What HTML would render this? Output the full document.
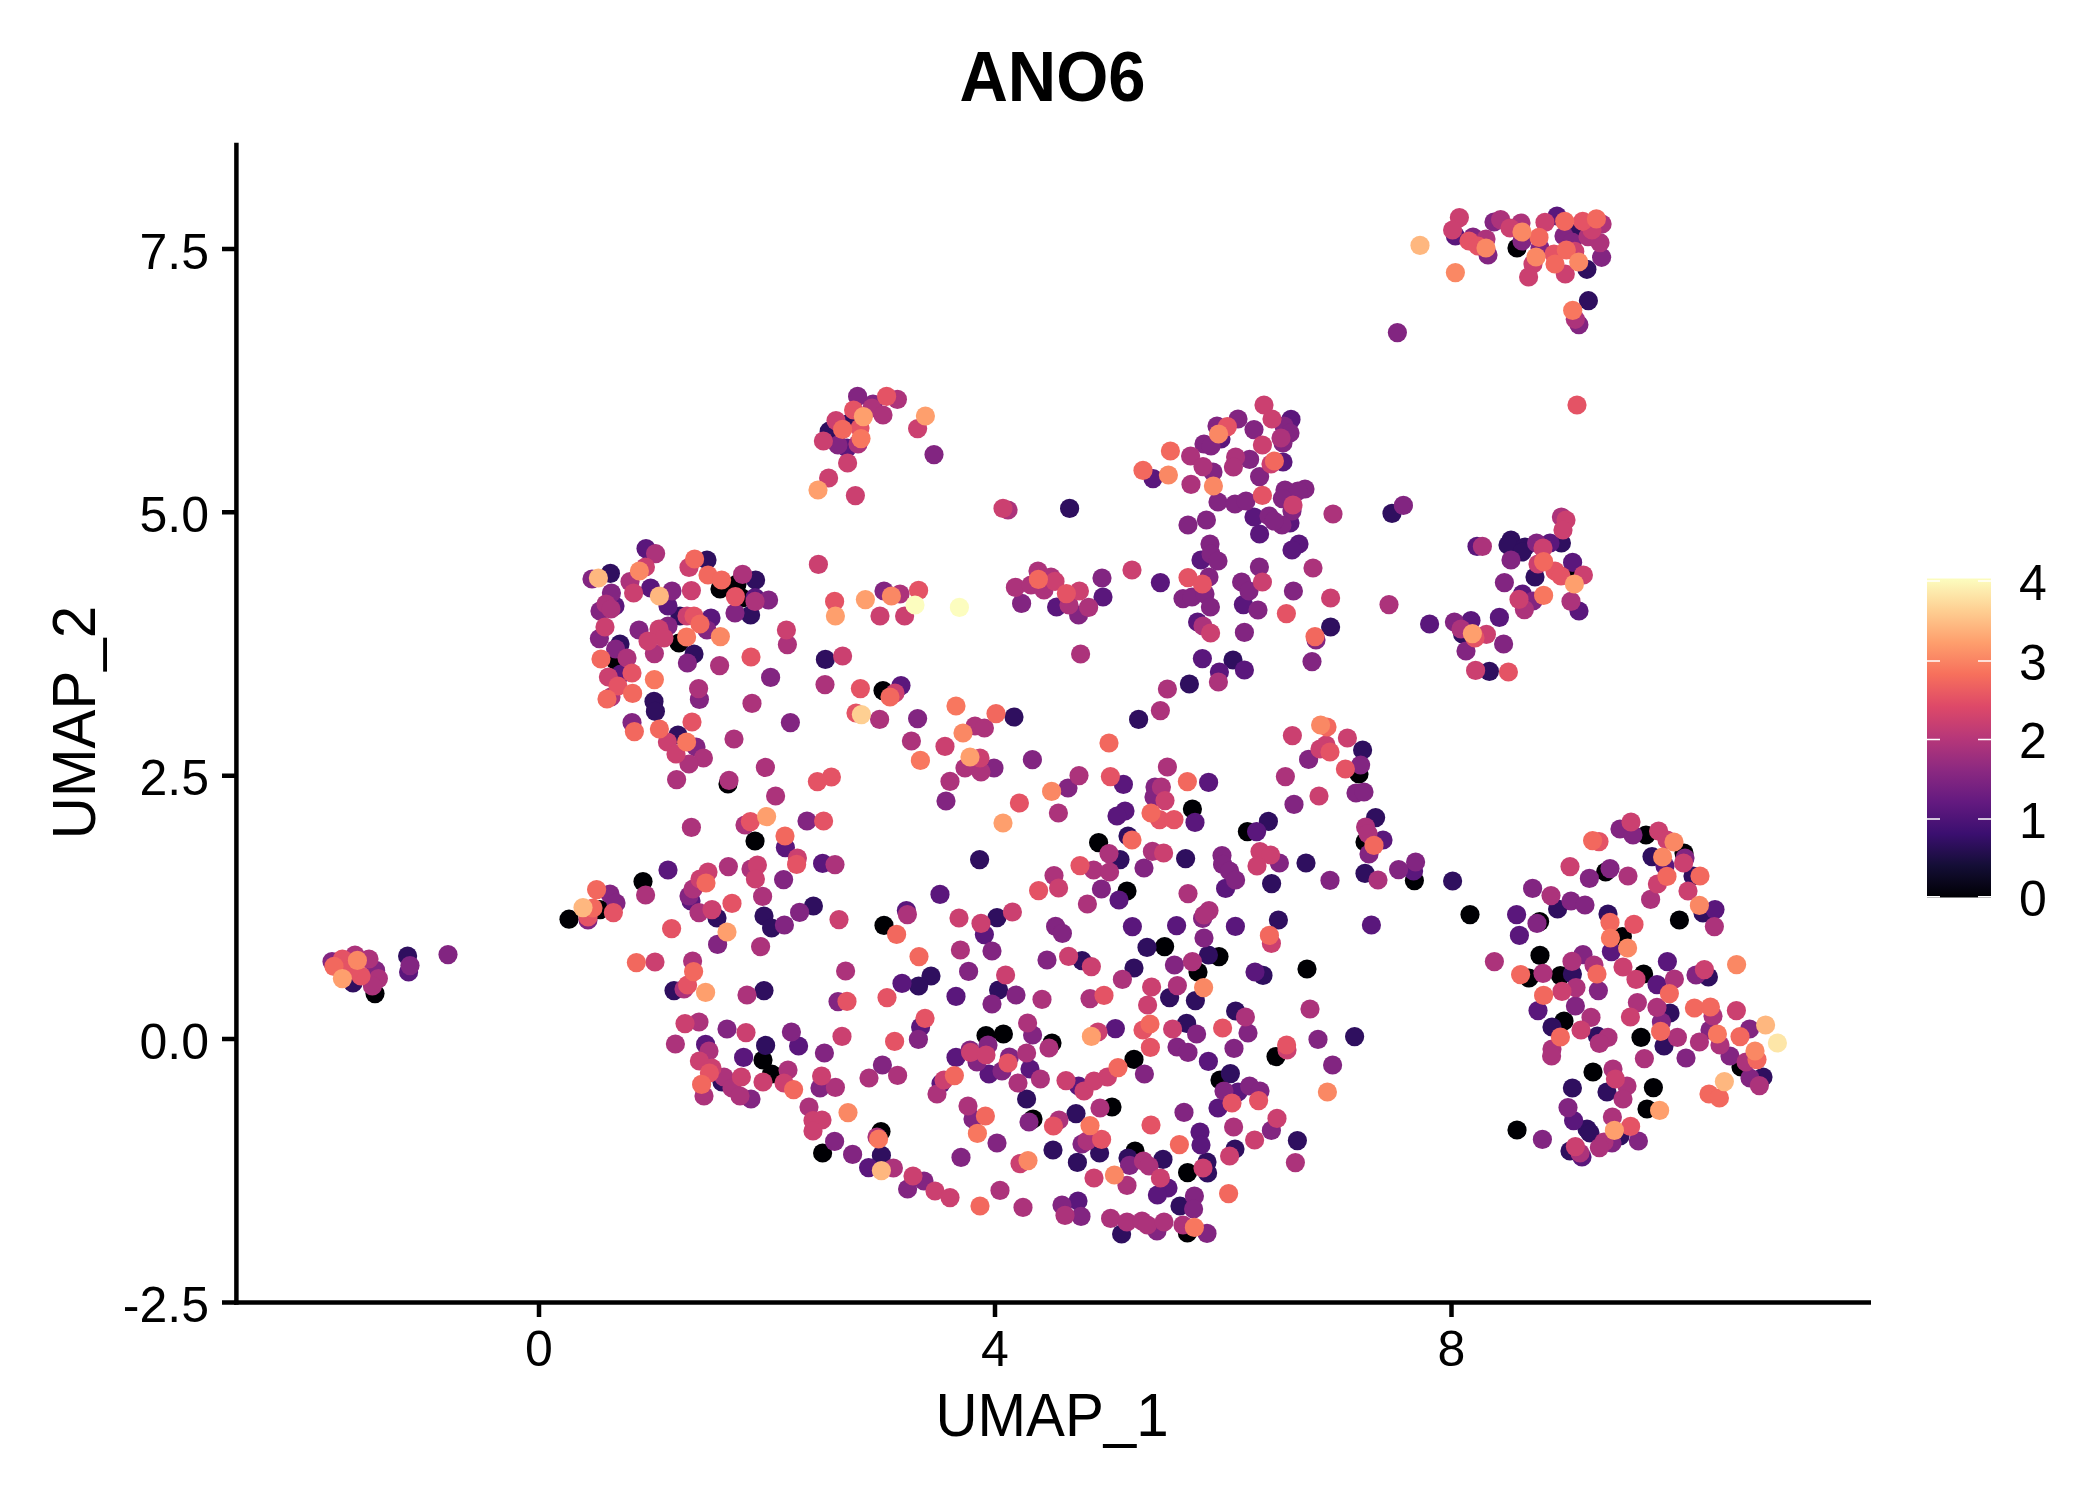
<!DOCTYPE html>
<html><head><meta charset="utf-8"><title>ANO6</title>
<style>html,body{margin:0;padding:0;background:#fff}svg{display:block}text{font-family:"Liberation Sans",sans-serif;fill:#000}</style>
</head><body>
<svg width="2100" height="1500" viewBox="0 0 2100 1500">
<rect width="2100" height="1500" fill="#fff"/>
<defs><linearGradient id="g" x1="0" y1="0" x2="0" y2="1"><stop offset="0" stop-color="#fcfdbf"/><stop offset="0.1" stop-color="#fecf92"/><stop offset="0.2" stop-color="#fe9f6d"/><stop offset="0.3" stop-color="#f7705c"/><stop offset="0.4" stop-color="#de4968"/><stop offset="0.5" stop-color="#b73779"/><stop offset="0.6" stop-color="#8c2981"/><stop offset="0.7" stop-color="#641a80"/><stop offset="0.8" stop-color="#3b0f70"/><stop offset="0.9" stop-color="#140e36"/><stop offset="1" stop-color="#000004"/></linearGradient></defs>
<text transform="translate(1052.5 101) scale(1 1.04)" font-size="67" font-weight="bold" text-anchor="middle">ANO6</text>
<g stroke="#000" stroke-width="4.5" fill="none">
<path d="M236.4 142.8V1304.7"/><path d="M234.2 1302.5H1871"/>
<path d="M222 249H236M222 512.3H236M222 775.7H236M222 1039H236M222 1302.5H236"/>
<path d="M539 1302V1317M995 1302V1317M1451.5 1302V1317"/>
</g>
<g font-size="50" text-anchor="end">
<text x="209" y="268.5">7.5</text><text x="209" y="531.8">5.0</text><text x="209" y="795.1">2.5</text><text x="209" y="1058.5">0.0</text><text x="209" y="1321.8">-2.5</text>
</g>
<g font-size="50" text-anchor="middle">
<text x="539" y="1366">0</text><text x="995" y="1366">4</text><text x="1451.5" y="1366">8</text>
</g>
<text transform="translate(1052 1435.5) scale(1 1.035)" font-size="58.3" text-anchor="middle">UMAP_1</text>
<text transform="translate(95 722.5) rotate(-90) scale(1 1.04)" font-size="58.3" text-anchor="middle">UMAP_2</text>
<rect x="1927" y="578.5" width="64" height="319" fill="url(#g)"/>
<g stroke="#fff" stroke-width="1.6">
<path d="M1927 581H1940M1978 581H1991M1927 661H1940M1978 661H1991M1927 739.5H1940M1978 739.5H1991M1927 819H1940M1978 819H1991M1927 896.7H1940M1978 896.7H1991"/>
</g>
<g font-size="50">
<text x="2019" y="600">4</text><text x="2019" y="680">3</text><text x="2019" y="758">2</text><text x="2019" y="838">1</text><text x="2019" y="916">0</text>
</g>
<g>
<circle cx="375" cy="993.6" r="9.6" fill="#000004"/>
<circle cx="569" cy="919.2" r="9.6" fill="#000004"/>
<circle cx="600" cy="909.6" r="9.6" fill="#000004"/>
<circle cx="643" cy="881.6" r="9.6" fill="#000004"/>
<circle cx="755" cy="841" r="9.6" fill="#000004"/>
<circle cx="1098.6" cy="842.6" r="9.6" fill="#000004"/>
<circle cx="1127" cy="891" r="9.6" fill="#000004"/>
<circle cx="884" cy="925.4" r="9.6" fill="#000004"/>
<circle cx="986" cy="1035.6" r="9.6" fill="#000004"/>
<circle cx="1003.4" cy="1034" r="9.6" fill="#000004"/>
<circle cx="1052" cy="1043" r="9.6" fill="#000004"/>
<circle cx="763" cy="1060" r="9.6" fill="#000004"/>
<circle cx="1134" cy="1059.4" r="9.6" fill="#000004"/>
<circle cx="771.6" cy="1074" r="9.6" fill="#000004"/>
<circle cx="1192.4" cy="809" r="9.6" fill="#000004"/>
<circle cx="1247.4" cy="831.6" r="9.6" fill="#000004"/>
<circle cx="1365" cy="842" r="9.6" fill="#000004"/>
<circle cx="1414.4" cy="880.6" r="9.6" fill="#000004"/>
<circle cx="1470" cy="914.6" r="9.6" fill="#000004"/>
<circle cx="1539.6" cy="921.6" r="9.6" fill="#000004"/>
<circle cx="1164.6" cy="946.6" r="9.6" fill="#000004"/>
<circle cx="1219" cy="956.6" r="9.6" fill="#000004"/>
<circle cx="1540" cy="955.4" r="9.6" fill="#000004"/>
<circle cx="1198" cy="972" r="9.6" fill="#000004"/>
<circle cx="1307" cy="969" r="9.6" fill="#000004"/>
<circle cx="1529" cy="978" r="9.6" fill="#000004"/>
<circle cx="1276" cy="1056.6" r="9.6" fill="#000004"/>
<circle cx="1220" cy="1080" r="9.6" fill="#000004"/>
<circle cx="1646" cy="835" r="9.6" fill="#000004"/>
<circle cx="1684" cy="853" r="9.6" fill="#000004"/>
<circle cx="1605.6" cy="872" r="9.6" fill="#000004"/>
<circle cx="1679.4" cy="920" r="9.6" fill="#000004"/>
<circle cx="1622.4" cy="936.6" r="9.6" fill="#000004"/>
<circle cx="1560.4" cy="975.6" r="9.6" fill="#000004"/>
<circle cx="1643.6" cy="974" r="9.6" fill="#000004"/>
<circle cx="1564" cy="1021" r="9.6" fill="#000004"/>
<circle cx="1641" cy="1037.4" r="9.6" fill="#000004"/>
<circle cx="1741" cy="1067" r="9.6" fill="#000004"/>
<circle cx="1593" cy="1072" r="9.6" fill="#000004"/>
<circle cx="1653.4" cy="1087.6" r="9.6" fill="#000004"/>
<circle cx="822.6" cy="1153" r="9.6" fill="#000004"/>
<circle cx="881" cy="1131.6" r="9.6" fill="#000004"/>
<circle cx="1112" cy="1107" r="9.6" fill="#000004"/>
<circle cx="1033" cy="1119" r="9.6" fill="#000004"/>
<circle cx="1135" cy="1151" r="9.6" fill="#000004"/>
<circle cx="1187.6" cy="1172.6" r="9.6" fill="#000004"/>
<circle cx="1187.4" cy="1233" r="9.6" fill="#000004"/>
<circle cx="1647" cy="1109" r="9.6" fill="#000004"/>
<circle cx="1517" cy="1130" r="9.6" fill="#000004"/>
<circle cx="737" cy="584" r="9.6" fill="#000004"/>
<circle cx="720" cy="589" r="9.6" fill="#000004"/>
<circle cx="742" cy="598" r="9.6" fill="#000004"/>
<circle cx="679" cy="643" r="9.6" fill="#000004"/>
<circle cx="615" cy="660" r="9.6" fill="#000004"/>
<circle cx="883" cy="690.6" r="9.6" fill="#000004"/>
<circle cx="728" cy="784" r="9.6" fill="#000004"/>
<circle cx="1359" cy="774" r="9.6" fill="#000004"/>
<circle cx="1571" cy="574" r="9.6" fill="#000004"/>
<circle cx="1517" cy="248" r="9.6" fill="#000004"/>
<circle cx="353" cy="983" r="9.6" fill="#2f0f5f"/>
<circle cx="407.6" cy="956" r="9.6" fill="#2f0f5f"/>
<circle cx="717" cy="918" r="9.6" fill="#2f0f5f"/>
<circle cx="674" cy="990.6" r="9.6" fill="#2f0f5f"/>
<circle cx="1128" cy="836" r="9.6" fill="#2f0f5f"/>
<circle cx="1120" cy="859.6" r="9.6" fill="#2f0f5f"/>
<circle cx="979.6" cy="859.6" r="9.6" fill="#2f0f5f"/>
<circle cx="813.4" cy="906" r="9.6" fill="#2f0f5f"/>
<circle cx="997" cy="917.6" r="9.6" fill="#2f0f5f"/>
<circle cx="764" cy="916" r="9.6" fill="#2f0f5f"/>
<circle cx="771.6" cy="928" r="9.6" fill="#2f0f5f"/>
<circle cx="1082" cy="960.6" r="9.6" fill="#2f0f5f"/>
<circle cx="931" cy="976" r="9.6" fill="#2f0f5f"/>
<circle cx="918.6" cy="986" r="9.6" fill="#2f0f5f"/>
<circle cx="1134" cy="968" r="9.6" fill="#2f0f5f"/>
<circle cx="764" cy="990.6" r="9.6" fill="#2f0f5f"/>
<circle cx="998.6" cy="990" r="9.6" fill="#2f0f5f"/>
<circle cx="765.6" cy="1045.4" r="9.6" fill="#2f0f5f"/>
<circle cx="722" cy="1082" r="9.6" fill="#2f0f5f"/>
<circle cx="1026.6" cy="1099" r="9.6" fill="#2f0f5f"/>
<circle cx="1375.6" cy="817.6" r="9.6" fill="#2f0f5f"/>
<circle cx="1268.4" cy="821.4" r="9.6" fill="#2f0f5f"/>
<circle cx="1185.6" cy="858.6" r="9.6" fill="#2f0f5f"/>
<circle cx="1306" cy="863" r="9.6" fill="#2f0f5f"/>
<circle cx="1271.6" cy="883.6" r="9.6" fill="#2f0f5f"/>
<circle cx="1365" cy="873.4" r="9.6" fill="#2f0f5f"/>
<circle cx="1452.6" cy="881" r="9.6" fill="#2f0f5f"/>
<circle cx="1278.4" cy="920" r="9.6" fill="#2f0f5f"/>
<circle cx="1557.6" cy="909" r="9.6" fill="#2f0f5f"/>
<circle cx="1147" cy="947.4" r="9.6" fill="#2f0f5f"/>
<circle cx="1208.4" cy="955" r="9.6" fill="#2f0f5f"/>
<circle cx="1263" cy="975.4" r="9.6" fill="#2f0f5f"/>
<circle cx="1169.6" cy="997.6" r="9.6" fill="#2f0f5f"/>
<circle cx="1195.4" cy="1000.6" r="9.6" fill="#2f0f5f"/>
<circle cx="1235.6" cy="1011" r="9.6" fill="#2f0f5f"/>
<circle cx="1186.6" cy="1023.4" r="9.6" fill="#2f0f5f"/>
<circle cx="1552" cy="1027" r="9.6" fill="#2f0f5f"/>
<circle cx="1354.6" cy="1036.6" r="9.6" fill="#2f0f5f"/>
<circle cx="1230.4" cy="1073.6" r="9.6" fill="#2f0f5f"/>
<circle cx="1652" cy="856.6" r="9.6" fill="#2f0f5f"/>
<circle cx="1693" cy="876" r="9.6" fill="#2f0f5f"/>
<circle cx="1703" cy="913" r="9.6" fill="#2f0f5f"/>
<circle cx="1608" cy="914" r="9.6" fill="#2f0f5f"/>
<circle cx="1572.4" cy="974" r="9.6" fill="#2f0f5f"/>
<circle cx="1708.4" cy="977" r="9.6" fill="#2f0f5f"/>
<circle cx="1670" cy="1013" r="9.6" fill="#2f0f5f"/>
<circle cx="1597.4" cy="1036" r="9.6" fill="#2f0f5f"/>
<circle cx="1664" cy="1046" r="9.6" fill="#2f0f5f"/>
<circle cx="1572.4" cy="1088" r="9.6" fill="#2f0f5f"/>
<circle cx="1607" cy="1092" r="9.6" fill="#2f0f5f"/>
<circle cx="1763" cy="1077" r="9.6" fill="#2f0f5f"/>
<circle cx="881.4" cy="1155.4" r="9.6" fill="#2f0f5f"/>
<circle cx="1076" cy="1113.6" r="9.6" fill="#2f0f5f"/>
<circle cx="1297.4" cy="1140.6" r="9.6" fill="#2f0f5f"/>
<circle cx="1235" cy="1149" r="9.6" fill="#2f0f5f"/>
<circle cx="1053" cy="1150" r="9.6" fill="#2f0f5f"/>
<circle cx="1099.6" cy="1153" r="9.6" fill="#2f0f5f"/>
<circle cx="1077.4" cy="1162.4" r="9.6" fill="#2f0f5f"/>
<circle cx="1128" cy="1158" r="9.6" fill="#2f0f5f"/>
<circle cx="1163" cy="1159.4" r="9.6" fill="#2f0f5f"/>
<circle cx="1207" cy="1162" r="9.6" fill="#2f0f5f"/>
<circle cx="1207.6" cy="1173" r="9.6" fill="#2f0f5f"/>
<circle cx="1180" cy="1206" r="9.6" fill="#2f0f5f"/>
<circle cx="1121.6" cy="1234" r="9.6" fill="#2f0f5f"/>
<circle cx="1587" cy="1129" r="9.6" fill="#2f0f5f"/>
<circle cx="1590" cy="1133" r="9.6" fill="#2f0f5f"/>
<circle cx="1620" cy="1136" r="9.6" fill="#2f0f5f"/>
<circle cx="1570" cy="1151" r="9.6" fill="#2f0f5f"/>
<circle cx="707" cy="560" r="9.6" fill="#2f0f5f"/>
<circle cx="610.4" cy="573.4" r="9.6" fill="#2f0f5f"/>
<circle cx="755.6" cy="580" r="9.6" fill="#2f0f5f"/>
<circle cx="680" cy="616" r="9.6" fill="#2f0f5f"/>
<circle cx="750.6" cy="615" r="9.6" fill="#2f0f5f"/>
<circle cx="620" cy="644" r="9.6" fill="#2f0f5f"/>
<circle cx="694" cy="654" r="9.6" fill="#2f0f5f"/>
<circle cx="825.4" cy="659.4" r="9.6" fill="#2f0f5f"/>
<circle cx="654" cy="701.4" r="9.6" fill="#2f0f5f"/>
<circle cx="655.4" cy="711.4" r="9.6" fill="#2f0f5f"/>
<circle cx="678" cy="735" r="9.6" fill="#2f0f5f"/>
<circle cx="1069.6" cy="508.4" r="9.6" fill="#2f0f5f"/>
<circle cx="1330.6" cy="627" r="9.6" fill="#2f0f5f"/>
<circle cx="1233" cy="660" r="9.6" fill="#2f0f5f"/>
<circle cx="1189.4" cy="684" r="9.6" fill="#2f0f5f"/>
<circle cx="1138.6" cy="719.4" r="9.6" fill="#2f0f5f"/>
<circle cx="1014" cy="717" r="9.6" fill="#2f0f5f"/>
<circle cx="1362.6" cy="750" r="9.6" fill="#2f0f5f"/>
<circle cx="1392" cy="513.4" r="9.6" fill="#2f0f5f"/>
<circle cx="1511" cy="540" r="9.6" fill="#2f0f5f"/>
<circle cx="1508" cy="545" r="9.6" fill="#2f0f5f"/>
<circle cx="1525" cy="547" r="9.6" fill="#2f0f5f"/>
<circle cx="1522" cy="552" r="9.6" fill="#2f0f5f"/>
<circle cx="1561.4" cy="543" r="9.6" fill="#2f0f5f"/>
<circle cx="1535" cy="577" r="9.6" fill="#2f0f5f"/>
<circle cx="1462.6" cy="634" r="9.6" fill="#2f0f5f"/>
<circle cx="1489.4" cy="671.4" r="9.6" fill="#2f0f5f"/>
<circle cx="851" cy="422" r="9.6" fill="#2f0f5f"/>
<circle cx="829.2" cy="431.2" r="9.6" fill="#2f0f5f"/>
<circle cx="1577.3" cy="232.7" r="9.6" fill="#2f0f5f"/>
<circle cx="1586.9" cy="269.3" r="9.6" fill="#2f0f5f"/>
<circle cx="1588.4" cy="300.7" r="9.6" fill="#2f0f5f"/>
<circle cx="408.6" cy="972" r="9.6" fill="#5a177c"/>
<circle cx="668" cy="870" r="9.6" fill="#5a177c"/>
<circle cx="691" cy="901" r="9.6" fill="#5a177c"/>
<circle cx="705.6" cy="1044.4" r="9.6" fill="#5a177c"/>
<circle cx="1125" cy="811" r="9.6" fill="#5a177c"/>
<circle cx="1117" cy="816" r="9.6" fill="#5a177c"/>
<circle cx="785.4" cy="847.6" r="9.6" fill="#5a177c"/>
<circle cx="822.6" cy="863.4" r="9.6" fill="#5a177c"/>
<circle cx="940" cy="894.4" r="9.6" fill="#5a177c"/>
<circle cx="1119" cy="900" r="9.6" fill="#5a177c"/>
<circle cx="906.4" cy="910.6" r="9.6" fill="#5a177c"/>
<circle cx="984.4" cy="934.6" r="9.6" fill="#5a177c"/>
<circle cx="1132.4" cy="926.6" r="9.6" fill="#5a177c"/>
<circle cx="902" cy="983.4" r="9.6" fill="#5a177c"/>
<circle cx="956" cy="996.4" r="9.6" fill="#5a177c"/>
<circle cx="920.6" cy="1027" r="9.6" fill="#5a177c"/>
<circle cx="1115.4" cy="1028.6" r="9.6" fill="#5a177c"/>
<circle cx="798.6" cy="1046" r="9.6" fill="#5a177c"/>
<circle cx="956" cy="1057.4" r="9.6" fill="#5a177c"/>
<circle cx="743.6" cy="1057.4" r="9.6" fill="#5a177c"/>
<circle cx="1030" cy="1069" r="9.6" fill="#5a177c"/>
<circle cx="989" cy="1074" r="9.6" fill="#5a177c"/>
<circle cx="941" cy="1083.6" r="9.6" fill="#5a177c"/>
<circle cx="1078.6" cy="1086" r="9.6" fill="#5a177c"/>
<circle cx="1195" cy="822.4" r="9.6" fill="#5a177c"/>
<circle cx="1256.6" cy="831.6" r="9.6" fill="#5a177c"/>
<circle cx="1383" cy="840" r="9.6" fill="#5a177c"/>
<circle cx="1225.6" cy="888.4" r="9.6" fill="#5a177c"/>
<circle cx="1413.6" cy="871" r="9.6" fill="#5a177c"/>
<circle cx="1176.6" cy="925.6" r="9.6" fill="#5a177c"/>
<circle cx="1235.4" cy="926.4" r="9.6" fill="#5a177c"/>
<circle cx="1371.4" cy="925" r="9.6" fill="#5a177c"/>
<circle cx="1516.6" cy="914.6" r="9.6" fill="#5a177c"/>
<circle cx="1519.4" cy="935.4" r="9.6" fill="#5a177c"/>
<circle cx="1255" cy="972" r="9.6" fill="#5a177c"/>
<circle cx="1538" cy="1010.6" r="9.6" fill="#5a177c"/>
<circle cx="1208.4" cy="1061.4" r="9.6" fill="#5a177c"/>
<circle cx="1238" cy="1092" r="9.6" fill="#5a177c"/>
<circle cx="1665" cy="866" r="9.6" fill="#5a177c"/>
<circle cx="1715" cy="909.6" r="9.6" fill="#5a177c"/>
<circle cx="1611.4" cy="951.6" r="9.6" fill="#5a177c"/>
<circle cx="1667.4" cy="961.6" r="9.6" fill="#5a177c"/>
<circle cx="1657" cy="984.6" r="9.6" fill="#5a177c"/>
<circle cx="868.6" cy="1167.6" r="9.6" fill="#5a177c"/>
<circle cx="1218" cy="1108" r="9.6" fill="#5a177c"/>
<circle cx="1200" cy="1132" r="9.6" fill="#5a177c"/>
<circle cx="1201" cy="1145" r="9.6" fill="#5a177c"/>
<circle cx="1168" cy="1188" r="9.6" fill="#5a177c"/>
<circle cx="1157.4" cy="1195" r="9.6" fill="#5a177c"/>
<circle cx="1078" cy="1201" r="9.6" fill="#5a177c"/>
<circle cx="1573.6" cy="1120.6" r="9.6" fill="#5a177c"/>
<circle cx="1582" cy="1157" r="9.6" fill="#5a177c"/>
<circle cx="646" cy="548.6" r="9.6" fill="#5a177c"/>
<circle cx="650.6" cy="588" r="9.6" fill="#5a177c"/>
<circle cx="755" cy="597.6" r="9.6" fill="#5a177c"/>
<circle cx="615" cy="606" r="9.6" fill="#5a177c"/>
<circle cx="668" cy="606" r="9.6" fill="#5a177c"/>
<circle cx="711" cy="618" r="9.6" fill="#5a177c"/>
<circle cx="621" cy="674" r="9.6" fill="#5a177c"/>
<circle cx="901" cy="685.6" r="9.6" fill="#5a177c"/>
<circle cx="1254" cy="517" r="9.6" fill="#5a177c"/>
<circle cx="1290" cy="523" r="9.6" fill="#5a177c"/>
<circle cx="1259.6" cy="534" r="9.6" fill="#5a177c"/>
<circle cx="1299" cy="544" r="9.6" fill="#5a177c"/>
<circle cx="1292" cy="550" r="9.6" fill="#5a177c"/>
<circle cx="1201" cy="560" r="9.6" fill="#5a177c"/>
<circle cx="1160.4" cy="582.6" r="9.6" fill="#5a177c"/>
<circle cx="1103" cy="597" r="9.6" fill="#5a177c"/>
<circle cx="1056.6" cy="607" r="9.6" fill="#5a177c"/>
<circle cx="1243.4" cy="604.6" r="9.6" fill="#5a177c"/>
<circle cx="1197.6" cy="622" r="9.6" fill="#5a177c"/>
<circle cx="1202.4" cy="658.6" r="9.6" fill="#5a177c"/>
<circle cx="1219.4" cy="672" r="9.6" fill="#5a177c"/>
<circle cx="1244.4" cy="670" r="9.6" fill="#5a177c"/>
<circle cx="1123.4" cy="784.4" r="9.6" fill="#5a177c"/>
<circle cx="1208.6" cy="782.4" r="9.6" fill="#5a177c"/>
<circle cx="1477" cy="546.4" r="9.6" fill="#5a177c"/>
<circle cx="1550" cy="543" r="9.6" fill="#5a177c"/>
<circle cx="1572.6" cy="562.4" r="9.6" fill="#5a177c"/>
<circle cx="1522.4" cy="594" r="9.6" fill="#5a177c"/>
<circle cx="1579" cy="611" r="9.6" fill="#5a177c"/>
<circle cx="1499.4" cy="617.4" r="9.6" fill="#5a177c"/>
<circle cx="1429.6" cy="624" r="9.6" fill="#5a177c"/>
<circle cx="1471" cy="620.6" r="9.6" fill="#5a177c"/>
<circle cx="847" cy="448" r="9.6" fill="#5a177c"/>
<circle cx="1455.4" cy="236" r="9.6" fill="#5a177c"/>
<circle cx="1557" cy="216" r="9.6" fill="#5a177c"/>
<circle cx="1291" cy="419.4" r="9.6" fill="#5a177c"/>
<circle cx="1221" cy="439" r="9.6" fill="#5a177c"/>
<circle cx="1283" cy="462" r="9.6" fill="#5a177c"/>
<circle cx="1153" cy="478.6" r="9.6" fill="#5a177c"/>
<circle cx="332" cy="961.6" r="9.6" fill="#822581"/>
<circle cx="375.6" cy="970.4" r="9.6" fill="#822581"/>
<circle cx="410" cy="965.6" r="9.6" fill="#822581"/>
<circle cx="448" cy="954.6" r="9.6" fill="#822581"/>
<circle cx="588" cy="920" r="9.6" fill="#822581"/>
<circle cx="610" cy="894" r="9.6" fill="#822581"/>
<circle cx="616" cy="903" r="9.6" fill="#822581"/>
<circle cx="689" cy="896" r="9.6" fill="#822581"/>
<circle cx="717.6" cy="944.4" r="9.6" fill="#822581"/>
<circle cx="807" cy="821" r="9.6" fill="#822581"/>
<circle cx="946" cy="801" r="9.6" fill="#822581"/>
<circle cx="783.6" cy="879.6" r="9.6" fill="#822581"/>
<circle cx="799.6" cy="912.4" r="9.6" fill="#822581"/>
<circle cx="1101.4" cy="889" r="9.6" fill="#822581"/>
<circle cx="784.4" cy="925" r="9.6" fill="#822581"/>
<circle cx="1055.6" cy="926.4" r="9.6" fill="#822581"/>
<circle cx="1062.4" cy="933.4" r="9.6" fill="#822581"/>
<circle cx="992" cy="951" r="9.6" fill="#822581"/>
<circle cx="1047" cy="960" r="9.6" fill="#822581"/>
<circle cx="968.6" cy="971.4" r="9.6" fill="#822581"/>
<circle cx="1016" cy="995" r="9.6" fill="#822581"/>
<circle cx="838" cy="1001.6" r="9.6" fill="#822581"/>
<circle cx="992" cy="1004" r="9.6" fill="#822581"/>
<circle cx="727" cy="1029" r="9.6" fill="#822581"/>
<circle cx="791.4" cy="1032" r="9.6" fill="#822581"/>
<circle cx="1032.6" cy="1035" r="9.6" fill="#822581"/>
<circle cx="918.4" cy="1039.4" r="9.6" fill="#822581"/>
<circle cx="988" cy="1045" r="9.6" fill="#822581"/>
<circle cx="970" cy="1050" r="9.6" fill="#822581"/>
<circle cx="824.4" cy="1053" r="9.6" fill="#822581"/>
<circle cx="1009.4" cy="1057" r="9.6" fill="#822581"/>
<circle cx="977" cy="1062" r="9.6" fill="#822581"/>
<circle cx="1002" cy="1071" r="9.6" fill="#822581"/>
<circle cx="882.4" cy="1065" r="9.6" fill="#822581"/>
<circle cx="820" cy="1088" r="9.6" fill="#822581"/>
<circle cx="751" cy="1099" r="9.6" fill="#822581"/>
<circle cx="1294" cy="804.4" r="9.6" fill="#822581"/>
<circle cx="1369" cy="854" r="9.6" fill="#822581"/>
<circle cx="1144" cy="868" r="9.6" fill="#822581"/>
<circle cx="1222" cy="855.6" r="9.6" fill="#822581"/>
<circle cx="1222.6" cy="864.4" r="9.6" fill="#822581"/>
<circle cx="1229.6" cy="871" r="9.6" fill="#822581"/>
<circle cx="1235.6" cy="880" r="9.6" fill="#822581"/>
<circle cx="1279.4" cy="863" r="9.6" fill="#822581"/>
<circle cx="1330" cy="880.4" r="9.6" fill="#822581"/>
<circle cx="1398.6" cy="869.6" r="9.6" fill="#822581"/>
<circle cx="1415.6" cy="862" r="9.6" fill="#822581"/>
<circle cx="1532.6" cy="888.4" r="9.6" fill="#822581"/>
<circle cx="1202.6" cy="918.4" r="9.6" fill="#822581"/>
<circle cx="1537" cy="923.4" r="9.6" fill="#822581"/>
<circle cx="1204" cy="938" r="9.6" fill="#822581"/>
<circle cx="1174.4" cy="965" r="9.6" fill="#822581"/>
<circle cx="1196.6" cy="1034" r="9.6" fill="#822581"/>
<circle cx="1248" cy="1033" r="9.6" fill="#822581"/>
<circle cx="1318" cy="1039.4" r="9.6" fill="#822581"/>
<circle cx="1177" cy="1047" r="9.6" fill="#822581"/>
<circle cx="1188" cy="1052.4" r="9.6" fill="#822581"/>
<circle cx="1234" cy="1048.4" r="9.6" fill="#822581"/>
<circle cx="1332.6" cy="1065" r="9.6" fill="#822581"/>
<circle cx="1144.4" cy="1074" r="9.6" fill="#822581"/>
<circle cx="1224" cy="1091" r="9.6" fill="#822581"/>
<circle cx="1249.6" cy="1086" r="9.6" fill="#822581"/>
<circle cx="1260" cy="1091" r="9.6" fill="#822581"/>
<circle cx="1620" cy="829" r="9.6" fill="#822581"/>
<circle cx="1633" cy="835" r="9.6" fill="#822581"/>
<circle cx="1685" cy="858" r="9.6" fill="#822581"/>
<circle cx="1610" cy="868.6" r="9.6" fill="#822581"/>
<circle cx="1589.4" cy="878.4" r="9.6" fill="#822581"/>
<circle cx="1571" cy="901" r="9.6" fill="#822581"/>
<circle cx="1585" cy="905" r="9.6" fill="#822581"/>
<circle cx="1583" cy="954.6" r="9.6" fill="#822581"/>
<circle cx="1696" cy="975" r="9.6" fill="#822581"/>
<circle cx="1598.4" cy="990.6" r="9.6" fill="#822581"/>
<circle cx="1575.4" cy="1006" r="9.6" fill="#822581"/>
<circle cx="1661.4" cy="1022" r="9.6" fill="#822581"/>
<circle cx="1749.6" cy="1029" r="9.6" fill="#822581"/>
<circle cx="1710" cy="1030" r="9.6" fill="#822581"/>
<circle cx="1730" cy="1056" r="9.6" fill="#822581"/>
<circle cx="1686" cy="1058" r="9.6" fill="#822581"/>
<circle cx="1750" cy="1078" r="9.6" fill="#822581"/>
<circle cx="834.6" cy="1141.4" r="9.6" fill="#822581"/>
<circle cx="852.6" cy="1154.4" r="9.6" fill="#822581"/>
<circle cx="924" cy="1181" r="9.6" fill="#822581"/>
<circle cx="907.6" cy="1189" r="9.6" fill="#822581"/>
<circle cx="973" cy="1119" r="9.6" fill="#822581"/>
<circle cx="997" cy="1143" r="9.6" fill="#822581"/>
<circle cx="961" cy="1157.4" r="9.6" fill="#822581"/>
<circle cx="1029" cy="1122" r="9.6" fill="#822581"/>
<circle cx="1184" cy="1112.4" r="9.6" fill="#822581"/>
<circle cx="1271.4" cy="1130.4" r="9.6" fill="#822581"/>
<circle cx="1082" cy="1144" r="9.6" fill="#822581"/>
<circle cx="1129.6" cy="1165.4" r="9.6" fill="#822581"/>
<circle cx="1194.4" cy="1196" r="9.6" fill="#822581"/>
<circle cx="1193.6" cy="1209" r="9.6" fill="#822581"/>
<circle cx="1062" cy="1205" r="9.6" fill="#822581"/>
<circle cx="1081" cy="1216.4" r="9.6" fill="#822581"/>
<circle cx="1157" cy="1231" r="9.6" fill="#822581"/>
<circle cx="1207" cy="1233.4" r="9.6" fill="#822581"/>
<circle cx="1568" cy="1107.6" r="9.6" fill="#822581"/>
<circle cx="1542.4" cy="1139.4" r="9.6" fill="#822581"/>
<circle cx="1638.4" cy="1141" r="9.6" fill="#822581"/>
<circle cx="1612" cy="1143" r="9.6" fill="#822581"/>
<circle cx="592" cy="579" r="9.6" fill="#822581"/>
<circle cx="611.4" cy="593" r="9.6" fill="#822581"/>
<circle cx="672" cy="591" r="9.6" fill="#822581"/>
<circle cx="768.6" cy="600" r="9.6" fill="#822581"/>
<circle cx="600" cy="611" r="9.6" fill="#822581"/>
<circle cx="707" cy="630" r="9.6" fill="#822581"/>
<circle cx="735" cy="613" r="9.6" fill="#822581"/>
<circle cx="599.4" cy="638.6" r="9.6" fill="#822581"/>
<circle cx="639" cy="630" r="9.6" fill="#822581"/>
<circle cx="668" cy="626" r="9.6" fill="#822581"/>
<circle cx="615.6" cy="649" r="9.6" fill="#822581"/>
<circle cx="687.4" cy="663" r="9.6" fill="#822581"/>
<circle cx="770.6" cy="677.4" r="9.6" fill="#822581"/>
<circle cx="699.4" cy="699.4" r="9.6" fill="#822581"/>
<circle cx="917.6" cy="718.6" r="9.6" fill="#822581"/>
<circle cx="790.4" cy="722.6" r="9.6" fill="#822581"/>
<circle cx="632" cy="722.6" r="9.6" fill="#822581"/>
<circle cx="696" cy="747" r="9.6" fill="#822581"/>
<circle cx="884" cy="591" r="9.6" fill="#822581"/>
<circle cx="1218" cy="502" r="9.6" fill="#822581"/>
<circle cx="1235" cy="504" r="9.6" fill="#822581"/>
<circle cx="1246" cy="501" r="9.6" fill="#822581"/>
<circle cx="1292" cy="511" r="9.6" fill="#822581"/>
<circle cx="1269" cy="516" r="9.6" fill="#822581"/>
<circle cx="1282" cy="525" r="9.6" fill="#822581"/>
<circle cx="1274" cy="521" r="9.6" fill="#822581"/>
<circle cx="1206.4" cy="520" r="9.6" fill="#822581"/>
<circle cx="1188" cy="525" r="9.6" fill="#822581"/>
<circle cx="1210" cy="544" r="9.6" fill="#822581"/>
<circle cx="1211" cy="554" r="9.6" fill="#822581"/>
<circle cx="1218" cy="561" r="9.6" fill="#822581"/>
<circle cx="1259.4" cy="567" r="9.6" fill="#822581"/>
<circle cx="1102" cy="578" r="9.6" fill="#822581"/>
<circle cx="1021.6" cy="603.4" r="9.6" fill="#822581"/>
<circle cx="1078.6" cy="615" r="9.6" fill="#822581"/>
<circle cx="1209" cy="577" r="9.6" fill="#822581"/>
<circle cx="1241.6" cy="582" r="9.6" fill="#822581"/>
<circle cx="1249" cy="591" r="9.6" fill="#822581"/>
<circle cx="1293.4" cy="591" r="9.6" fill="#822581"/>
<circle cx="1183" cy="598.6" r="9.6" fill="#822581"/>
<circle cx="1192" cy="597" r="9.6" fill="#822581"/>
<circle cx="1205" cy="594" r="9.6" fill="#822581"/>
<circle cx="1210.4" cy="607" r="9.6" fill="#822581"/>
<circle cx="1258" cy="610" r="9.6" fill="#822581"/>
<circle cx="1244.4" cy="632.4" r="9.6" fill="#822581"/>
<circle cx="1316" cy="640" r="9.6" fill="#822581"/>
<circle cx="1312" cy="661.6" r="9.6" fill="#822581"/>
<circle cx="994" cy="768" r="9.6" fill="#822581"/>
<circle cx="1032.4" cy="759.6" r="9.6" fill="#822581"/>
<circle cx="1068" cy="788" r="9.6" fill="#822581"/>
<circle cx="1155" cy="787" r="9.6" fill="#822581"/>
<circle cx="1154" cy="797" r="9.6" fill="#822581"/>
<circle cx="1308.6" cy="759.4" r="9.6" fill="#822581"/>
<circle cx="1360.6" cy="765" r="9.6" fill="#822581"/>
<circle cx="1356" cy="793" r="9.6" fill="#822581"/>
<circle cx="1364" cy="792" r="9.6" fill="#822581"/>
<circle cx="1403.4" cy="505.4" r="9.6" fill="#822581"/>
<circle cx="1536.6" cy="543" r="9.6" fill="#822581"/>
<circle cx="1511" cy="560" r="9.6" fill="#822581"/>
<circle cx="1504.4" cy="582.6" r="9.6" fill="#822581"/>
<circle cx="1533" cy="601" r="9.6" fill="#822581"/>
<circle cx="1454.4" cy="622" r="9.6" fill="#822581"/>
<circle cx="1503.6" cy="644" r="9.6" fill="#822581"/>
<circle cx="1466" cy="651" r="9.6" fill="#822581"/>
<circle cx="857.6" cy="396.4" r="9.6" fill="#822581"/>
<circle cx="873" cy="404" r="9.6" fill="#822581"/>
<circle cx="838" cy="445" r="9.6" fill="#822581"/>
<circle cx="934" cy="454.6" r="9.6" fill="#822581"/>
<circle cx="1473" cy="237" r="9.6" fill="#822581"/>
<circle cx="1488" cy="255" r="9.6" fill="#822581"/>
<circle cx="1494" cy="222" r="9.6" fill="#822581"/>
<circle cx="1522" cy="241" r="9.6" fill="#822581"/>
<circle cx="1540" cy="248" r="9.6" fill="#822581"/>
<circle cx="1397.4" cy="332.6" r="9.6" fill="#822581"/>
<circle cx="1238" cy="419" r="9.6" fill="#822581"/>
<circle cx="1217" cy="426" r="9.6" fill="#822581"/>
<circle cx="1254" cy="429.6" r="9.6" fill="#822581"/>
<circle cx="1284" cy="426" r="9.6" fill="#822581"/>
<circle cx="1290" cy="433" r="9.6" fill="#822581"/>
<circle cx="1283" cy="443" r="9.6" fill="#822581"/>
<circle cx="1204" cy="444" r="9.6" fill="#822581"/>
<circle cx="1211" cy="446" r="9.6" fill="#822581"/>
<circle cx="1249.6" cy="459.4" r="9.6" fill="#822581"/>
<circle cx="1213" cy="472" r="9.6" fill="#822581"/>
<circle cx="1259.6" cy="476.6" r="9.6" fill="#822581"/>
<circle cx="1285" cy="490" r="9.6" fill="#822581"/>
<circle cx="1305" cy="489" r="9.6" fill="#822581"/>
<circle cx="1298" cy="491" r="9.6" fill="#822581"/>
<circle cx="1282.4" cy="498.6" r="9.6" fill="#822581"/>
<circle cx="1564" cy="236" r="9.6" fill="#822581"/>
<circle cx="1572" cy="242" r="9.6" fill="#822581"/>
<circle cx="1601.6" cy="257.3" r="9.6" fill="#822581"/>
<circle cx="1578.9" cy="324.7" r="9.6" fill="#822581"/>
<circle cx="355" cy="955" r="9.6" fill="#ac337b"/>
<circle cx="369" cy="959" r="9.6" fill="#ac337b"/>
<circle cx="378.4" cy="978.6" r="9.6" fill="#ac337b"/>
<circle cx="372.4" cy="986" r="9.6" fill="#ac337b"/>
<circle cx="645.6" cy="895" r="9.6" fill="#ac337b"/>
<circle cx="691.4" cy="827.4" r="9.6" fill="#ac337b"/>
<circle cx="693" cy="889" r="9.6" fill="#ac337b"/>
<circle cx="699" cy="912.6" r="9.6" fill="#ac337b"/>
<circle cx="692.6" cy="961" r="9.6" fill="#ac337b"/>
<circle cx="684" cy="989" r="9.6" fill="#ac337b"/>
<circle cx="699" cy="1022" r="9.6" fill="#ac337b"/>
<circle cx="675.4" cy="1044" r="9.6" fill="#ac337b"/>
<circle cx="709" cy="1051" r="9.6" fill="#ac337b"/>
<circle cx="704" cy="1096" r="9.6" fill="#ac337b"/>
<circle cx="745" cy="825" r="9.6" fill="#ac337b"/>
<circle cx="1058.4" cy="813" r="9.6" fill="#ac337b"/>
<circle cx="1109" cy="853.6" r="9.6" fill="#ac337b"/>
<circle cx="728.4" cy="866.6" r="9.6" fill="#ac337b"/>
<circle cx="751" cy="869" r="9.6" fill="#ac337b"/>
<circle cx="835" cy="864.6" r="9.6" fill="#ac337b"/>
<circle cx="1093.6" cy="870" r="9.6" fill="#ac337b"/>
<circle cx="1109.6" cy="872" r="9.6" fill="#ac337b"/>
<circle cx="1054" cy="875.6" r="9.6" fill="#ac337b"/>
<circle cx="762.6" cy="896.4" r="9.6" fill="#ac337b"/>
<circle cx="1087.4" cy="904" r="9.6" fill="#ac337b"/>
<circle cx="907.4" cy="914.6" r="9.6" fill="#ac337b"/>
<circle cx="760.6" cy="946.6" r="9.6" fill="#ac337b"/>
<circle cx="960.4" cy="950" r="9.6" fill="#ac337b"/>
<circle cx="845.6" cy="971" r="9.6" fill="#ac337b"/>
<circle cx="1122.4" cy="979.4" r="9.6" fill="#ac337b"/>
<circle cx="747" cy="995" r="9.6" fill="#ac337b"/>
<circle cx="1042" cy="999.4" r="9.6" fill="#ac337b"/>
<circle cx="1090" cy="998.6" r="9.6" fill="#ac337b"/>
<circle cx="1027.6" cy="1023" r="9.6" fill="#ac337b"/>
<circle cx="1049" cy="1048" r="9.6" fill="#ac337b"/>
<circle cx="1026.6" cy="1053" r="9.6" fill="#ac337b"/>
<circle cx="788" cy="1070" r="9.6" fill="#ac337b"/>
<circle cx="724" cy="1077" r="9.6" fill="#ac337b"/>
<circle cx="835.4" cy="1087.4" r="9.6" fill="#ac337b"/>
<circle cx="869" cy="1078" r="9.6" fill="#ac337b"/>
<circle cx="897.6" cy="1075.4" r="9.6" fill="#ac337b"/>
<circle cx="937" cy="1094" r="9.6" fill="#ac337b"/>
<circle cx="1018" cy="1083" r="9.6" fill="#ac337b"/>
<circle cx="1040.4" cy="1079" r="9.6" fill="#ac337b"/>
<circle cx="732" cy="1088" r="9.6" fill="#ac337b"/>
<circle cx="740" cy="1096" r="9.6" fill="#ac337b"/>
<circle cx="1365.6" cy="827" r="9.6" fill="#ac337b"/>
<circle cx="1368" cy="833.6" r="9.6" fill="#ac337b"/>
<circle cx="1152.4" cy="851.4" r="9.6" fill="#ac337b"/>
<circle cx="1378" cy="880" r="9.6" fill="#ac337b"/>
<circle cx="1188" cy="893.6" r="9.6" fill="#ac337b"/>
<circle cx="1551" cy="895.6" r="9.6" fill="#ac337b"/>
<circle cx="1209" cy="910.6" r="9.6" fill="#ac337b"/>
<circle cx="1204" cy="915" r="9.6" fill="#ac337b"/>
<circle cx="1192.4" cy="961.6" r="9.6" fill="#ac337b"/>
<circle cx="1494.4" cy="961.6" r="9.6" fill="#ac337b"/>
<circle cx="1543" cy="973.4" r="9.6" fill="#ac337b"/>
<circle cx="1177.4" cy="985.6" r="9.6" fill="#ac337b"/>
<circle cx="1310" cy="1009" r="9.6" fill="#ac337b"/>
<circle cx="1245.4" cy="1017" r="9.6" fill="#ac337b"/>
<circle cx="1552" cy="1049" r="9.6" fill="#ac337b"/>
<circle cx="1551.6" cy="1056" r="9.6" fill="#ac337b"/>
<circle cx="1650.6" cy="899.4" r="9.6" fill="#ac337b"/>
<circle cx="1628" cy="876" r="9.6" fill="#ac337b"/>
<circle cx="1714.4" cy="926.6" r="9.6" fill="#ac337b"/>
<circle cx="1572" cy="961.4" r="9.6" fill="#ac337b"/>
<circle cx="1594" cy="965" r="9.6" fill="#ac337b"/>
<circle cx="1674.4" cy="979" r="9.6" fill="#ac337b"/>
<circle cx="1576" cy="987.6" r="9.6" fill="#ac337b"/>
<circle cx="1637.4" cy="1002.6" r="9.6" fill="#ac337b"/>
<circle cx="1657" cy="1007.4" r="9.6" fill="#ac337b"/>
<circle cx="1713" cy="1016" r="9.6" fill="#ac337b"/>
<circle cx="1591" cy="1017.4" r="9.6" fill="#ac337b"/>
<circle cx="1608" cy="1037.4" r="9.6" fill="#ac337b"/>
<circle cx="1599.4" cy="1043.4" r="9.6" fill="#ac337b"/>
<circle cx="1677.4" cy="1037.4" r="9.6" fill="#ac337b"/>
<circle cx="1699.4" cy="1042" r="9.6" fill="#ac337b"/>
<circle cx="1720" cy="1045" r="9.6" fill="#ac337b"/>
<circle cx="1746" cy="1062" r="9.6" fill="#ac337b"/>
<circle cx="1644.4" cy="1058.6" r="9.6" fill="#ac337b"/>
<circle cx="1613" cy="1069" r="9.6" fill="#ac337b"/>
<circle cx="1627" cy="1086" r="9.6" fill="#ac337b"/>
<circle cx="1623" cy="1099" r="9.6" fill="#ac337b"/>
<circle cx="1759.4" cy="1085.6" r="9.6" fill="#ac337b"/>
<circle cx="809" cy="1107" r="9.6" fill="#ac337b"/>
<circle cx="877" cy="1137" r="9.6" fill="#ac337b"/>
<circle cx="893.4" cy="1168" r="9.6" fill="#ac337b"/>
<circle cx="968" cy="1106" r="9.6" fill="#ac337b"/>
<circle cx="1000" cy="1190.4" r="9.6" fill="#ac337b"/>
<circle cx="1100" cy="1108" r="9.6" fill="#ac337b"/>
<circle cx="1059" cy="1120" r="9.6" fill="#ac337b"/>
<circle cx="1233.6" cy="1127" r="9.6" fill="#ac337b"/>
<circle cx="1087" cy="1141" r="9.6" fill="#ac337b"/>
<circle cx="1143.4" cy="1161" r="9.6" fill="#ac337b"/>
<circle cx="1149" cy="1166" r="9.6" fill="#ac337b"/>
<circle cx="1295.4" cy="1162.6" r="9.6" fill="#ac337b"/>
<circle cx="1127" cy="1185.4" r="9.6" fill="#ac337b"/>
<circle cx="1023" cy="1207.4" r="9.6" fill="#ac337b"/>
<circle cx="1065" cy="1215.4" r="9.6" fill="#ac337b"/>
<circle cx="1110.6" cy="1218.4" r="9.6" fill="#ac337b"/>
<circle cx="1127" cy="1222" r="9.6" fill="#ac337b"/>
<circle cx="1142" cy="1221" r="9.6" fill="#ac337b"/>
<circle cx="1147.4" cy="1225" r="9.6" fill="#ac337b"/>
<circle cx="1164" cy="1222" r="9.6" fill="#ac337b"/>
<circle cx="1183" cy="1225" r="9.6" fill="#ac337b"/>
<circle cx="1612.4" cy="1117" r="9.6" fill="#ac337b"/>
<circle cx="1604" cy="1142" r="9.6" fill="#ac337b"/>
<circle cx="1599.4" cy="1147.6" r="9.6" fill="#ac337b"/>
<circle cx="1580" cy="1153" r="9.6" fill="#ac337b"/>
<circle cx="655.6" cy="553.6" r="9.6" fill="#ac337b"/>
<circle cx="630" cy="581.6" r="9.6" fill="#ac337b"/>
<circle cx="742.6" cy="574.4" r="9.6" fill="#ac337b"/>
<circle cx="755" cy="601.4" r="9.6" fill="#ac337b"/>
<circle cx="606" cy="604" r="9.6" fill="#ac337b"/>
<circle cx="611" cy="609" r="9.6" fill="#ac337b"/>
<circle cx="787.4" cy="644.6" r="9.6" fill="#ac337b"/>
<circle cx="654.4" cy="653.6" r="9.6" fill="#ac337b"/>
<circle cx="627" cy="658" r="9.6" fill="#ac337b"/>
<circle cx="719.6" cy="665.6" r="9.6" fill="#ac337b"/>
<circle cx="611" cy="697" r="9.6" fill="#ac337b"/>
<circle cx="698.6" cy="688.6" r="9.6" fill="#ac337b"/>
<circle cx="825" cy="684.6" r="9.6" fill="#ac337b"/>
<circle cx="752" cy="703.4" r="9.6" fill="#ac337b"/>
<circle cx="879.6" cy="719.4" r="9.6" fill="#ac337b"/>
<circle cx="734" cy="739" r="9.6" fill="#ac337b"/>
<circle cx="911.4" cy="741" r="9.6" fill="#ac337b"/>
<circle cx="703.4" cy="758" r="9.6" fill="#ac337b"/>
<circle cx="689" cy="764" r="9.6" fill="#ac337b"/>
<circle cx="765.4" cy="767.4" r="9.6" fill="#ac337b"/>
<circle cx="676.6" cy="779.6" r="9.6" fill="#ac337b"/>
<circle cx="729" cy="780.4" r="9.6" fill="#ac337b"/>
<circle cx="950" cy="781.4" r="9.6" fill="#ac337b"/>
<circle cx="775.6" cy="796" r="9.6" fill="#ac337b"/>
<circle cx="900" cy="594" r="9.6" fill="#ac337b"/>
<circle cx="1008" cy="510" r="9.6" fill="#ac337b"/>
<circle cx="1333" cy="514" r="9.6" fill="#ac337b"/>
<circle cx="1313" cy="568" r="9.6" fill="#ac337b"/>
<circle cx="1038" cy="571" r="9.6" fill="#ac337b"/>
<circle cx="1051" cy="577" r="9.6" fill="#ac337b"/>
<circle cx="1015.4" cy="587.4" r="9.6" fill="#ac337b"/>
<circle cx="1031" cy="585" r="9.6" fill="#ac337b"/>
<circle cx="1044" cy="590" r="9.6" fill="#ac337b"/>
<circle cx="1069" cy="605" r="9.6" fill="#ac337b"/>
<circle cx="1088.6" cy="607.4" r="9.6" fill="#ac337b"/>
<circle cx="1203" cy="626" r="9.6" fill="#ac337b"/>
<circle cx="1080.6" cy="654" r="9.6" fill="#ac337b"/>
<circle cx="1218.4" cy="682" r="9.6" fill="#ac337b"/>
<circle cx="1167.4" cy="689" r="9.6" fill="#ac337b"/>
<circle cx="1160.4" cy="710.6" r="9.6" fill="#ac337b"/>
<circle cx="975" cy="726" r="9.6" fill="#ac337b"/>
<circle cx="984.4" cy="728" r="9.6" fill="#ac337b"/>
<circle cx="965" cy="768" r="9.6" fill="#ac337b"/>
<circle cx="981" cy="772" r="9.6" fill="#ac337b"/>
<circle cx="1079" cy="775.6" r="9.6" fill="#ac337b"/>
<circle cx="1167.4" cy="767" r="9.6" fill="#ac337b"/>
<circle cx="1161.4" cy="787" r="9.6" fill="#ac337b"/>
<circle cx="1285.4" cy="776.6" r="9.6" fill="#ac337b"/>
<circle cx="1389" cy="604.6" r="9.6" fill="#ac337b"/>
<circle cx="1561.4" cy="517" r="9.6" fill="#ac337b"/>
<circle cx="1482.4" cy="546.4" r="9.6" fill="#ac337b"/>
<circle cx="1524.4" cy="609.6" r="9.6" fill="#ac337b"/>
<circle cx="1571" cy="601.4" r="9.6" fill="#ac337b"/>
<circle cx="1461" cy="629" r="9.6" fill="#ac337b"/>
<circle cx="897.4" cy="399.4" r="9.6" fill="#ac337b"/>
<circle cx="872" cy="408" r="9.6" fill="#ac337b"/>
<circle cx="883" cy="415" r="9.6" fill="#ac337b"/>
<circle cx="858" cy="444" r="9.6" fill="#ac337b"/>
<circle cx="1486" cy="239" r="9.6" fill="#ac337b"/>
<circle cx="1500.6" cy="219.6" r="9.6" fill="#ac337b"/>
<circle cx="1521" cy="223" r="9.6" fill="#ac337b"/>
<circle cx="1281" cy="438" r="9.6" fill="#ac337b"/>
<circle cx="1190.6" cy="456" r="9.6" fill="#ac337b"/>
<circle cx="1235.6" cy="457" r="9.6" fill="#ac337b"/>
<circle cx="1203" cy="466.6" r="9.6" fill="#ac337b"/>
<circle cx="1233.4" cy="467" r="9.6" fill="#ac337b"/>
<circle cx="1191" cy="484.4" r="9.6" fill="#ac337b"/>
<circle cx="1602.1" cy="224" r="9.6" fill="#ac337b"/>
<circle cx="1588" cy="236.7" r="9.6" fill="#ac337b"/>
<circle cx="1600" cy="242.7" r="9.6" fill="#ac337b"/>
<circle cx="1575.3" cy="319.3" r="9.6" fill="#ac337b"/>
<circle cx="708" cy="872" r="9.6" fill="#cb4070"/>
<circle cx="700" cy="879" r="9.6" fill="#cb4070"/>
<circle cx="712" cy="909.6" r="9.6" fill="#cb4070"/>
<circle cx="655" cy="962" r="9.6" fill="#cb4070"/>
<circle cx="685" cy="1023.6" r="9.6" fill="#cb4070"/>
<circle cx="699.4" cy="1061" r="9.6" fill="#cb4070"/>
<circle cx="712" cy="1068" r="9.6" fill="#cb4070"/>
<circle cx="797.4" cy="858" r="9.6" fill="#cb4070"/>
<circle cx="757.4" cy="865" r="9.6" fill="#cb4070"/>
<circle cx="755.4" cy="879" r="9.6" fill="#cb4070"/>
<circle cx="1058.6" cy="888" r="9.6" fill="#cb4070"/>
<circle cx="1012.4" cy="912" r="9.6" fill="#cb4070"/>
<circle cx="959" cy="918" r="9.6" fill="#cb4070"/>
<circle cx="839" cy="919.6" r="9.6" fill="#cb4070"/>
<circle cx="981" cy="923.4" r="9.6" fill="#cb4070"/>
<circle cx="1068.6" cy="956.4" r="9.6" fill="#cb4070"/>
<circle cx="1091.4" cy="966.6" r="9.6" fill="#cb4070"/>
<circle cx="1005.6" cy="975" r="9.6" fill="#cb4070"/>
<circle cx="746" cy="1032.6" r="9.6" fill="#cb4070"/>
<circle cx="1098" cy="1032" r="9.6" fill="#cb4070"/>
<circle cx="842" cy="1036.4" r="9.6" fill="#cb4070"/>
<circle cx="970.6" cy="1052.4" r="9.6" fill="#cb4070"/>
<circle cx="986" cy="1055" r="9.6" fill="#cb4070"/>
<circle cx="741.4" cy="1077" r="9.6" fill="#cb4070"/>
<circle cx="763" cy="1082" r="9.6" fill="#cb4070"/>
<circle cx="784" cy="1083" r="9.6" fill="#cb4070"/>
<circle cx="821.6" cy="1076" r="9.6" fill="#cb4070"/>
<circle cx="944" cy="1080" r="9.6" fill="#cb4070"/>
<circle cx="1066" cy="1080.6" r="9.6" fill="#cb4070"/>
<circle cx="1084" cy="1091" r="9.6" fill="#cb4070"/>
<circle cx="1094" cy="1081" r="9.6" fill="#cb4070"/>
<circle cx="1107.4" cy="1077" r="9.6" fill="#cb4070"/>
<circle cx="1165" cy="800.6" r="9.6" fill="#cb4070"/>
<circle cx="1163.6" cy="853" r="9.6" fill="#cb4070"/>
<circle cx="1260" cy="851.6" r="9.6" fill="#cb4070"/>
<circle cx="1270.6" cy="855" r="9.6" fill="#cb4070"/>
<circle cx="1257" cy="866" r="9.6" fill="#cb4070"/>
<circle cx="1271.4" cy="943.4" r="9.6" fill="#cb4070"/>
<circle cx="1151.6" cy="987" r="9.6" fill="#cb4070"/>
<circle cx="1147.6" cy="1005" r="9.6" fill="#cb4070"/>
<circle cx="1172.6" cy="1029" r="9.6" fill="#cb4070"/>
<circle cx="1287" cy="1050" r="9.6" fill="#cb4070"/>
<circle cx="1631" cy="822" r="9.6" fill="#cb4070"/>
<circle cx="1658.6" cy="831" r="9.6" fill="#cb4070"/>
<circle cx="1667" cy="840" r="9.6" fill="#cb4070"/>
<circle cx="1683.6" cy="863" r="9.6" fill="#cb4070"/>
<circle cx="1657.4" cy="884" r="9.6" fill="#cb4070"/>
<circle cx="1688" cy="891" r="9.6" fill="#cb4070"/>
<circle cx="1570" cy="866.6" r="9.6" fill="#cb4070"/>
<circle cx="1623" cy="967" r="9.6" fill="#cb4070"/>
<circle cx="1636" cy="979.4" r="9.6" fill="#cb4070"/>
<circle cx="1704.4" cy="969.6" r="9.6" fill="#cb4070"/>
<circle cx="1562" cy="991.4" r="9.6" fill="#cb4070"/>
<circle cx="1736.4" cy="1010.6" r="9.6" fill="#cb4070"/>
<circle cx="1630.4" cy="1017" r="9.6" fill="#cb4070"/>
<circle cx="1581" cy="1030" r="9.6" fill="#cb4070"/>
<circle cx="1615.4" cy="1079" r="9.6" fill="#cb4070"/>
<circle cx="813" cy="1120.6" r="9.6" fill="#cb4070"/>
<circle cx="822" cy="1120" r="9.6" fill="#cb4070"/>
<circle cx="813" cy="1131" r="9.6" fill="#cb4070"/>
<circle cx="913" cy="1176" r="9.6" fill="#cb4070"/>
<circle cx="935" cy="1191" r="9.6" fill="#cb4070"/>
<circle cx="950" cy="1197.6" r="9.6" fill="#cb4070"/>
<circle cx="1277" cy="1118.4" r="9.6" fill="#cb4070"/>
<circle cx="1254.6" cy="1140" r="9.6" fill="#cb4070"/>
<circle cx="1229.6" cy="1156" r="9.6" fill="#cb4070"/>
<circle cx="1020" cy="1163.6" r="9.6" fill="#cb4070"/>
<circle cx="1203" cy="1168" r="9.6" fill="#cb4070"/>
<circle cx="1094" cy="1178" r="9.6" fill="#cb4070"/>
<circle cx="1160.4" cy="1178" r="9.6" fill="#cb4070"/>
<circle cx="1575.4" cy="1146.6" r="9.6" fill="#cb4070"/>
<circle cx="689" cy="567.4" r="9.6" fill="#cb4070"/>
<circle cx="645.4" cy="567" r="9.6" fill="#cb4070"/>
<circle cx="818.4" cy="564.4" r="9.6" fill="#cb4070"/>
<circle cx="633.6" cy="593" r="9.6" fill="#cb4070"/>
<circle cx="691.4" cy="590.6" r="9.6" fill="#cb4070"/>
<circle cx="687" cy="616" r="9.6" fill="#cb4070"/>
<circle cx="605" cy="627" r="9.6" fill="#cb4070"/>
<circle cx="659" cy="629" r="9.6" fill="#cb4070"/>
<circle cx="664" cy="638" r="9.6" fill="#cb4070"/>
<circle cx="648" cy="641" r="9.6" fill="#cb4070"/>
<circle cx="786.4" cy="630" r="9.6" fill="#cb4070"/>
<circle cx="842.6" cy="656" r="9.6" fill="#cb4070"/>
<circle cx="608.4" cy="677" r="9.6" fill="#cb4070"/>
<circle cx="895" cy="693" r="9.6" fill="#cb4070"/>
<circle cx="667.4" cy="742" r="9.6" fill="#cb4070"/>
<circle cx="945" cy="746.4" r="9.6" fill="#cb4070"/>
<circle cx="676" cy="754" r="9.6" fill="#cb4070"/>
<circle cx="880" cy="616" r="9.6" fill="#cb4070"/>
<circle cx="904.6" cy="616" r="9.6" fill="#cb4070"/>
<circle cx="1003" cy="508.4" r="9.6" fill="#cb4070"/>
<circle cx="1293" cy="505" r="9.6" fill="#cb4070"/>
<circle cx="1132" cy="570" r="9.6" fill="#cb4070"/>
<circle cx="1055" cy="581.4" r="9.6" fill="#cb4070"/>
<circle cx="1079.4" cy="591" r="9.6" fill="#cb4070"/>
<circle cx="1262.4" cy="582" r="9.6" fill="#cb4070"/>
<circle cx="1330.6" cy="598" r="9.6" fill="#cb4070"/>
<circle cx="1210.6" cy="633" r="9.6" fill="#cb4070"/>
<circle cx="980" cy="758" r="9.6" fill="#cb4070"/>
<circle cx="1292.4" cy="735.6" r="9.6" fill="#cb4070"/>
<circle cx="1347.4" cy="738" r="9.6" fill="#cb4070"/>
<circle cx="1326" cy="745" r="9.6" fill="#cb4070"/>
<circle cx="1320" cy="749" r="9.6" fill="#cb4070"/>
<circle cx="1319" cy="796" r="9.6" fill="#cb4070"/>
<circle cx="1566" cy="520" r="9.6" fill="#cb4070"/>
<circle cx="1563" cy="530" r="9.6" fill="#cb4070"/>
<circle cx="1543" cy="548" r="9.6" fill="#cb4070"/>
<circle cx="1538" cy="564" r="9.6" fill="#cb4070"/>
<circle cx="1583.4" cy="575" r="9.6" fill="#cb4070"/>
<circle cx="1519" cy="599.4" r="9.6" fill="#cb4070"/>
<circle cx="1486.4" cy="634.4" r="9.6" fill="#cb4070"/>
<circle cx="1475.6" cy="670.4" r="9.6" fill="#cb4070"/>
<circle cx="836" cy="420.6" r="9.6" fill="#cb4070"/>
<circle cx="917.6" cy="428.6" r="9.6" fill="#cb4070"/>
<circle cx="823.4" cy="441" r="9.6" fill="#cb4070"/>
<circle cx="847.6" cy="463" r="9.6" fill="#cb4070"/>
<circle cx="828.6" cy="478" r="9.6" fill="#cb4070"/>
<circle cx="855.4" cy="495.6" r="9.6" fill="#cb4070"/>
<circle cx="1459.4" cy="217.6" r="9.6" fill="#cb4070"/>
<circle cx="1452.6" cy="230" r="9.6" fill="#cb4070"/>
<circle cx="1510" cy="228" r="9.6" fill="#cb4070"/>
<circle cx="1545" cy="222.4" r="9.6" fill="#cb4070"/>
<circle cx="1533" cy="264" r="9.6" fill="#cb4070"/>
<circle cx="1528.6" cy="277" r="9.6" fill="#cb4070"/>
<circle cx="1264" cy="405" r="9.6" fill="#cb4070"/>
<circle cx="1272" cy="419" r="9.6" fill="#cb4070"/>
<circle cx="1262.4" cy="445" r="9.6" fill="#cb4070"/>
<circle cx="1271" cy="464" r="9.6" fill="#cb4070"/>
<circle cx="1592" cy="230" r="9.6" fill="#cb4070"/>
<circle cx="1574.7" cy="251.3" r="9.6" fill="#cb4070"/>
<circle cx="1565.3" cy="274" r="9.6" fill="#cb4070"/>
<circle cx="342.4" cy="959" r="9.6" fill="#e45365"/>
<circle cx="361" cy="976" r="9.6" fill="#e45365"/>
<circle cx="350" cy="970" r="9.6" fill="#e45365"/>
<circle cx="588" cy="917" r="9.6" fill="#e45365"/>
<circle cx="613.4" cy="912.6" r="9.6" fill="#e45365"/>
<circle cx="671.6" cy="928.6" r="9.6" fill="#e45365"/>
<circle cx="687.6" cy="985" r="9.6" fill="#e45365"/>
<circle cx="709.4" cy="1073" r="9.6" fill="#e45365"/>
<circle cx="750.4" cy="821.6" r="9.6" fill="#e45365"/>
<circle cx="823.6" cy="821" r="9.6" fill="#e45365"/>
<circle cx="1019.4" cy="803" r="9.6" fill="#e45365"/>
<circle cx="796.6" cy="864.4" r="9.6" fill="#e45365"/>
<circle cx="1080" cy="865.6" r="9.6" fill="#e45365"/>
<circle cx="1038.6" cy="890.6" r="9.6" fill="#e45365"/>
<circle cx="732" cy="903.4" r="9.6" fill="#e45365"/>
<circle cx="1104" cy="995.4" r="9.6" fill="#e45365"/>
<circle cx="887" cy="997.6" r="9.6" fill="#e45365"/>
<circle cx="847" cy="1001.4" r="9.6" fill="#e45365"/>
<circle cx="925" cy="1018.4" r="9.6" fill="#e45365"/>
<circle cx="894.6" cy="1041.4" r="9.6" fill="#e45365"/>
<circle cx="1008" cy="1063" r="9.6" fill="#e45365"/>
<circle cx="1159.6" cy="819.6" r="9.6" fill="#e45365"/>
<circle cx="1174" cy="819.6" r="9.6" fill="#e45365"/>
<circle cx="1143" cy="1030" r="9.6" fill="#e45365"/>
<circle cx="1222.6" cy="1028" r="9.6" fill="#e45365"/>
<circle cx="1286.6" cy="1045" r="9.6" fill="#e45365"/>
<circle cx="1150.4" cy="1047.4" r="9.6" fill="#e45365"/>
<circle cx="1599" cy="841.6" r="9.6" fill="#e45365"/>
<circle cx="1634" cy="924.4" r="9.6" fill="#e45365"/>
<circle cx="1053.4" cy="1126" r="9.6" fill="#e45365"/>
<circle cx="1151" cy="1125" r="9.6" fill="#e45365"/>
<circle cx="1232" cy="1103" r="9.6" fill="#e45365"/>
<circle cx="1258.6" cy="1100.6" r="9.6" fill="#e45365"/>
<circle cx="1101.6" cy="1139.4" r="9.6" fill="#e45365"/>
<circle cx="1630.6" cy="1126.4" r="9.6" fill="#e45365"/>
<circle cx="735.4" cy="596.6" r="9.6" fill="#e45365"/>
<circle cx="694" cy="616" r="9.6" fill="#e45365"/>
<circle cx="751" cy="657" r="9.6" fill="#e45365"/>
<circle cx="632" cy="673" r="9.6" fill="#e45365"/>
<circle cx="618" cy="686" r="9.6" fill="#e45365"/>
<circle cx="860.4" cy="688.6" r="9.6" fill="#e45365"/>
<circle cx="856" cy="713" r="9.6" fill="#e45365"/>
<circle cx="692" cy="722" r="9.6" fill="#e45365"/>
<circle cx="831.4" cy="777" r="9.6" fill="#e45365"/>
<circle cx="817.4" cy="781.6" r="9.6" fill="#e45365"/>
<circle cx="918.6" cy="590.4" r="9.6" fill="#e45365"/>
<circle cx="834.6" cy="601.4" r="9.6" fill="#e45365"/>
<circle cx="1066.4" cy="593.6" r="9.6" fill="#e45365"/>
<circle cx="1188" cy="577.6" r="9.6" fill="#e45365"/>
<circle cx="1202.4" cy="584" r="9.6" fill="#e45365"/>
<circle cx="1286.4" cy="613.6" r="9.6" fill="#e45365"/>
<circle cx="1110.4" cy="776.6" r="9.6" fill="#e45365"/>
<circle cx="1330" cy="752" r="9.6" fill="#e45365"/>
<circle cx="1345.4" cy="769" r="9.6" fill="#e45365"/>
<circle cx="1555" cy="571" r="9.6" fill="#e45365"/>
<circle cx="1561" cy="576" r="9.6" fill="#e45365"/>
<circle cx="1475" cy="638" r="9.6" fill="#e45365"/>
<circle cx="1508.4" cy="672" r="9.6" fill="#e45365"/>
<circle cx="886.6" cy="396.4" r="9.6" fill="#e45365"/>
<circle cx="853.6" cy="410" r="9.6" fill="#e45365"/>
<circle cx="860" cy="428" r="9.6" fill="#e45365"/>
<circle cx="1469" cy="241" r="9.6" fill="#e45365"/>
<circle cx="1478" cy="246" r="9.6" fill="#e45365"/>
<circle cx="1554" cy="254" r="9.6" fill="#e45365"/>
<circle cx="1227.4" cy="426.6" r="9.6" fill="#e45365"/>
<circle cx="1262.4" cy="495.4" r="9.6" fill="#e45365"/>
<circle cx="1582.7" cy="221.3" r="9.6" fill="#e45365"/>
<circle cx="1577" cy="405" r="9.6" fill="#e45365"/>
<circle cx="334" cy="966.4" r="9.6" fill="#f2685e"/>
<circle cx="593" cy="908" r="9.6" fill="#f2685e"/>
<circle cx="596.6" cy="889.6" r="9.6" fill="#f2685e"/>
<circle cx="706" cy="883" r="9.6" fill="#f2685e"/>
<circle cx="636.4" cy="962.6" r="9.6" fill="#f2685e"/>
<circle cx="693.6" cy="971.6" r="9.6" fill="#f2685e"/>
<circle cx="701.6" cy="1084.4" r="9.6" fill="#f2685e"/>
<circle cx="785" cy="836" r="9.6" fill="#f2685e"/>
<circle cx="1132" cy="840" r="9.6" fill="#f2685e"/>
<circle cx="896.6" cy="934.4" r="9.6" fill="#f2685e"/>
<circle cx="919" cy="956.6" r="9.6" fill="#f2685e"/>
<circle cx="1118" cy="1067.6" r="9.6" fill="#f2685e"/>
<circle cx="793.6" cy="1089.6" r="9.6" fill="#f2685e"/>
<circle cx="954.4" cy="1075.6" r="9.6" fill="#f2685e"/>
<circle cx="1151" cy="813" r="9.6" fill="#f2685e"/>
<circle cx="1374" cy="845.4" r="9.6" fill="#f2685e"/>
<circle cx="1269.4" cy="935.4" r="9.6" fill="#f2685e"/>
<circle cx="1520.6" cy="974.6" r="9.6" fill="#f2685e"/>
<circle cx="1543.6" cy="995.4" r="9.6" fill="#f2685e"/>
<circle cx="1150" cy="1024" r="9.6" fill="#f2685e"/>
<circle cx="1592.6" cy="840.6" r="9.6" fill="#f2685e"/>
<circle cx="1667" cy="876.4" r="9.6" fill="#f2685e"/>
<circle cx="1700" cy="876" r="9.6" fill="#f2685e"/>
<circle cx="1610" cy="922.4" r="9.6" fill="#f2685e"/>
<circle cx="1597" cy="974" r="9.6" fill="#f2685e"/>
<circle cx="1669.4" cy="993.6" r="9.6" fill="#f2685e"/>
<circle cx="1694.4" cy="1008" r="9.6" fill="#f2685e"/>
<circle cx="1710.4" cy="1007" r="9.6" fill="#f2685e"/>
<circle cx="1660.6" cy="1031.4" r="9.6" fill="#f2685e"/>
<circle cx="1560.4" cy="1037" r="9.6" fill="#f2685e"/>
<circle cx="1740" cy="1036.6" r="9.6" fill="#f2685e"/>
<circle cx="1757" cy="1059.6" r="9.6" fill="#f2685e"/>
<circle cx="1709" cy="1094" r="9.6" fill="#f2685e"/>
<circle cx="1719.4" cy="1098" r="9.6" fill="#f2685e"/>
<circle cx="985.4" cy="1116" r="9.6" fill="#f2685e"/>
<circle cx="980" cy="1206" r="9.6" fill="#f2685e"/>
<circle cx="1179.4" cy="1144.6" r="9.6" fill="#f2685e"/>
<circle cx="1228.6" cy="1193.6" r="9.6" fill="#f2685e"/>
<circle cx="694.6" cy="559" r="9.6" fill="#f2685e"/>
<circle cx="708" cy="575" r="9.6" fill="#f2685e"/>
<circle cx="721.6" cy="580" r="9.6" fill="#f2685e"/>
<circle cx="700" cy="624" r="9.6" fill="#f2685e"/>
<circle cx="601" cy="659" r="9.6" fill="#f2685e"/>
<circle cx="632.6" cy="693.4" r="9.6" fill="#f2685e"/>
<circle cx="607" cy="699" r="9.6" fill="#f2685e"/>
<circle cx="890" cy="697" r="9.6" fill="#f2685e"/>
<circle cx="634.4" cy="731.6" r="9.6" fill="#f2685e"/>
<circle cx="659.4" cy="729" r="9.6" fill="#f2685e"/>
<circle cx="1038.4" cy="579.4" r="9.6" fill="#f2685e"/>
<circle cx="1315" cy="636.6" r="9.6" fill="#f2685e"/>
<circle cx="996" cy="713.6" r="9.6" fill="#f2685e"/>
<circle cx="1109" cy="743" r="9.6" fill="#f2685e"/>
<circle cx="1187.4" cy="781.6" r="9.6" fill="#f2685e"/>
<circle cx="1327" cy="727" r="9.6" fill="#f2685e"/>
<circle cx="1543.6" cy="561.6" r="9.6" fill="#f2685e"/>
<circle cx="842.6" cy="429.4" r="9.6" fill="#f2685e"/>
<circle cx="1539" cy="237.4" r="9.6" fill="#f2685e"/>
<circle cx="1555" cy="264" r="9.6" fill="#f2685e"/>
<circle cx="1170.4" cy="451" r="9.6" fill="#f2685e"/>
<circle cx="1274.4" cy="461" r="9.6" fill="#f2685e"/>
<circle cx="1143" cy="470.4" r="9.6" fill="#f2685e"/>
<circle cx="1564.7" cy="221.3" r="9.6" fill="#f2685e"/>
<circle cx="1596.4" cy="218.9" r="9.6" fill="#f2685e"/>
<circle cx="1566.3" cy="250" r="9.6" fill="#f2685e"/>
<circle cx="1610.4" cy="938" r="9.6" fill="#f8775f"/>
<circle cx="1717.4" cy="1034" r="9.6" fill="#f8775f"/>
<circle cx="878.6" cy="1139" r="9.6" fill="#f8775f"/>
<circle cx="977.4" cy="1133.4" r="9.6" fill="#f8775f"/>
<circle cx="1090" cy="1125.6" r="9.6" fill="#f8775f"/>
<circle cx="1194.4" cy="1227.4" r="9.6" fill="#f8775f"/>
<circle cx="686.6" cy="637" r="9.6" fill="#f8775f"/>
<circle cx="654.4" cy="679.6" r="9.6" fill="#f8775f"/>
<circle cx="956" cy="706" r="9.6" fill="#f8775f"/>
<circle cx="686.6" cy="742" r="9.6" fill="#f8775f"/>
<circle cx="920.4" cy="760.4" r="9.6" fill="#f8775f"/>
<circle cx="1543.6" cy="595.4" r="9.6" fill="#f8775f"/>
<circle cx="861" cy="438.6" r="9.6" fill="#f8775f"/>
<circle cx="1572.7" cy="310.4" r="9.6" fill="#f8775f"/>
<circle cx="357.4" cy="960.4" r="9.6" fill="#fa8864"/>
<circle cx="1203.6" cy="987.6" r="9.6" fill="#fa8864"/>
<circle cx="1327.4" cy="1092" r="9.6" fill="#fa8864"/>
<circle cx="1674" cy="842" r="9.6" fill="#fa8864"/>
<circle cx="1662.6" cy="857" r="9.6" fill="#fa8864"/>
<circle cx="1699.4" cy="905.4" r="9.6" fill="#fa8864"/>
<circle cx="1627.6" cy="948" r="9.6" fill="#fa8864"/>
<circle cx="1736.6" cy="964.6" r="9.6" fill="#fa8864"/>
<circle cx="1755" cy="1051" r="9.6" fill="#fa8864"/>
<circle cx="848" cy="1112.6" r="9.6" fill="#fa8864"/>
<circle cx="1028" cy="1160.6" r="9.6" fill="#fa8864"/>
<circle cx="1114.4" cy="1175" r="9.6" fill="#fa8864"/>
<circle cx="639.4" cy="571" r="9.6" fill="#fa8864"/>
<circle cx="720.4" cy="636.6" r="9.6" fill="#fa8864"/>
<circle cx="891.4" cy="596" r="9.6" fill="#fa8864"/>
<circle cx="963" cy="733" r="9.6" fill="#fa8864"/>
<circle cx="1051.6" cy="791.4" r="9.6" fill="#fa8864"/>
<circle cx="1320.6" cy="725" r="9.6" fill="#fa8864"/>
<circle cx="1455.4" cy="272.6" r="9.6" fill="#fa8864"/>
<circle cx="1486" cy="248" r="9.6" fill="#fa8864"/>
<circle cx="1522" cy="232" r="9.6" fill="#fa8864"/>
<circle cx="1536" cy="257" r="9.6" fill="#fa8864"/>
<circle cx="1218.6" cy="434" r="9.6" fill="#fa8864"/>
<circle cx="1168.4" cy="475" r="9.6" fill="#fa8864"/>
<circle cx="1213.4" cy="486" r="9.6" fill="#fa8864"/>
<circle cx="1578.7" cy="262" r="9.6" fill="#fa8864"/>
<circle cx="342.4" cy="978.6" r="9.6" fill="#fe9f6d"/>
<circle cx="705.6" cy="992.4" r="9.6" fill="#fe9f6d"/>
<circle cx="766.6" cy="816.6" r="9.6" fill="#fe9f6d"/>
<circle cx="1003" cy="823" r="9.6" fill="#fe9f6d"/>
<circle cx="727" cy="932" r="9.6" fill="#fe9f6d"/>
<circle cx="1091.4" cy="1036.4" r="9.6" fill="#fe9f6d"/>
<circle cx="1659.6" cy="1110.4" r="9.6" fill="#fe9f6d"/>
<circle cx="1614.4" cy="1130.4" r="9.6" fill="#fe9f6d"/>
<circle cx="865.4" cy="599.6" r="9.6" fill="#fe9f6d"/>
<circle cx="835.4" cy="616" r="9.6" fill="#fe9f6d"/>
<circle cx="970" cy="757" r="9.6" fill="#fe9f6d"/>
<circle cx="1574.4" cy="584" r="9.6" fill="#fe9f6d"/>
<circle cx="1472.4" cy="633.6" r="9.6" fill="#fe9f6d"/>
<circle cx="863.4" cy="416.6" r="9.6" fill="#fe9f6d"/>
<circle cx="925.4" cy="416" r="9.6" fill="#fe9f6d"/>
<circle cx="818" cy="490" r="9.6" fill="#fe9f6d"/>
<circle cx="583" cy="907.6" r="9.6" fill="#feb77f"/>
<circle cx="1765.6" cy="1025" r="9.6" fill="#feb77f"/>
<circle cx="1724.4" cy="1081.6" r="9.6" fill="#feb77f"/>
<circle cx="881.4" cy="1170.6" r="9.6" fill="#feb77f"/>
<circle cx="598.4" cy="578" r="9.6" fill="#feb77f"/>
<circle cx="659.4" cy="596" r="9.6" fill="#feb77f"/>
<circle cx="1420" cy="245.4" r="9.6" fill="#feb77f"/>
<circle cx="861.4" cy="714.6" r="9.6" fill="#fecf92"/>
<circle cx="1777.4" cy="1043" r="9.6" fill="#fde6a8"/>
<circle cx="915" cy="605" r="9.6" fill="#fcfdbf"/>
<circle cx="959.4" cy="607.4" r="9.6" fill="#fcfdbf"/>
</g>
</svg>
</body></html>
